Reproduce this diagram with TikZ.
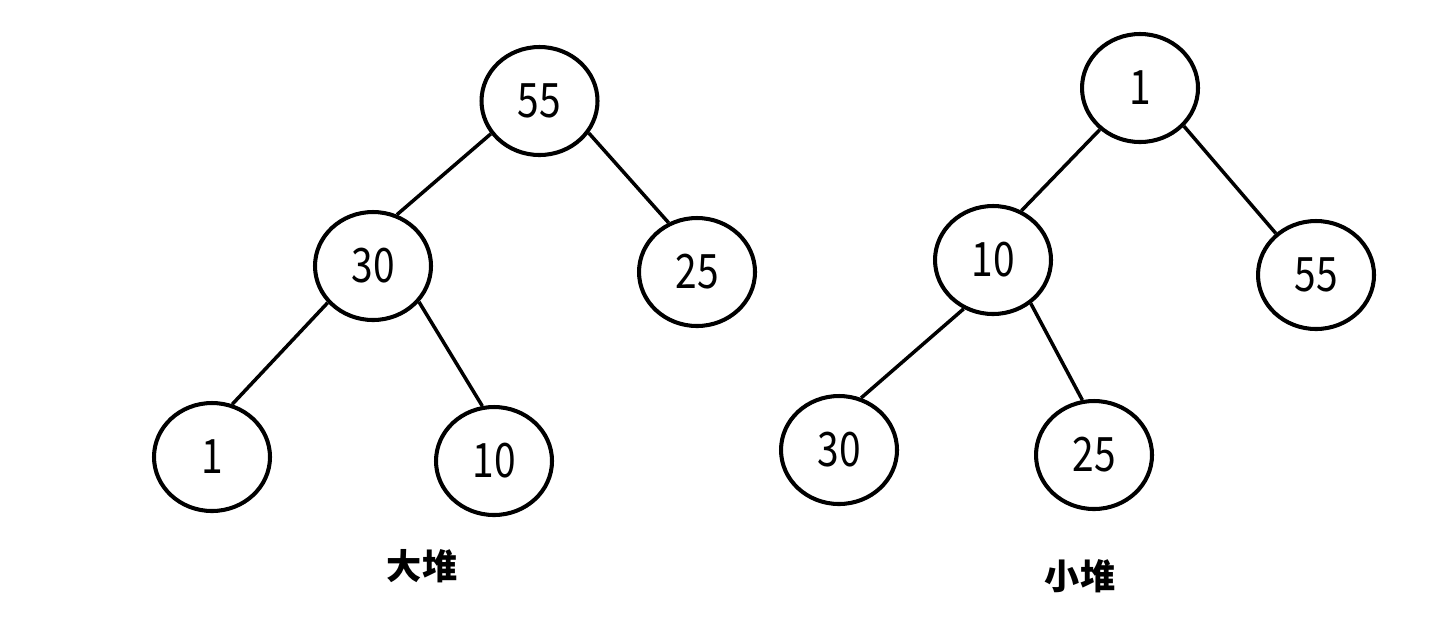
\documentclass[tikz,border=0pt]{standalone}
\usepackage{fontspec}
\newfontfamily\cjk{Noto Sans CJK SC}
\newfontfamily\digits[FakeStretch=0.82]{Noto Sans CJK SC}
\tikzset{
  heapnode/.style={draw, ellipse, line width=1.15pt, inner sep=0pt,
    minimum width=1.16cm, minimum height=1.08cm,
    font=\digits\fontsize{13.5pt}{15pt}\selectfont},
  heapedge/.style={line width=1pt},
  heaplabel/.style={font=\cjk\bfseries\fontsize{10pt}{12pt}\selectfont}
}
\usetikzlibrary{shapes.geometric}
\begin{document}
\begin{tikzpicture}
\useasboundingbox (0,0) rectangle (14.56,6.31);

% max heap
\begin{scope}
\node[heapnode] (big55) at (5.395,5.30) {55};
\node[heapnode] (big30) at (3.73,3.65) {30};
\node[heapnode] (big25) at (6.97,3.59) {25};
\node[heapnode] (big1) at (2.12,1.74) {1};
\node[heapnode] (big10) at (4.94,1.70) {10};
\draw[heapedge] (big55.214) -- (big30.65);
\draw[heapedge] (big55.327) -- (big25.120);
\draw[heapedge] (big30.219) -- (big1.69);
\draw[heapedge] (big30.322) -- (big10.102);
\node[heaplabel] (biglabel) at (4.22,0.65) {大堆};
\end{scope}

% min heap
\begin{scope}
\node[heapnode] (small1) at (11.40,5.43) {1};
\node[heapnode] (small10) at (9.93,3.71) {10};
\node[heapnode] (small55) at (13.16,3.56) {55};
\node[heapnode] (small30) at (8.39,1.81) {30};
\node[heapnode] (small25) at (10.94,1.76) {25};
\draw[heapedge] (small1.226) -- (small10.60);
\draw[heapedge] (small1.319) -- (small55.134);
\draw[heapedge] (small10.239) -- (small30.67);
\draw[heapedge] (small10.311) -- (small25.102);
\node[heaplabel] (smalllabel) at (10.80,0.55) {小堆};
\end{scope}
\end{tikzpicture}
\end{document}
